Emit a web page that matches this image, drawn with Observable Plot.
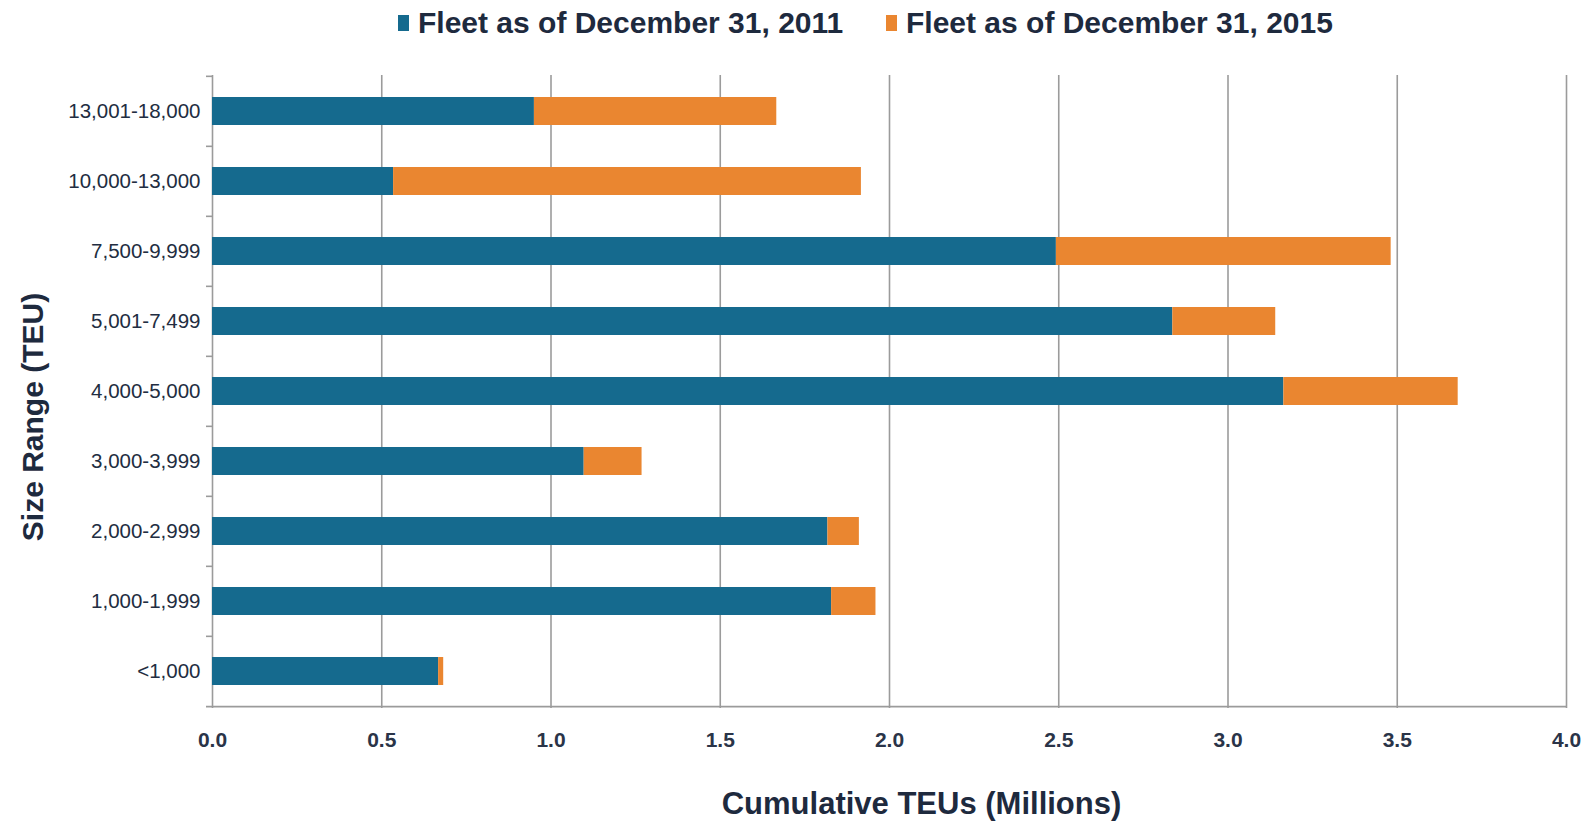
<!DOCTYPE html>
<html>
<head>
<meta charset="utf-8">
<script src="https://cdn.jsdelivr.net/npm/d3@7"></script>
<script src="https://cdn.jsdelivr.net/npm/@observablehq/plot@0.6"></script>
<style>
  html, body { margin: 0; padding: 0; background: #ffffff; }
  body { width: 1587px; height: 821px; overflow: hidden; font-family: "Liberation Sans", Arial, sans-serif; }
  #legend { position: relative; height: 50px; }
  .item { position: absolute; top: 1px; height: 44px; display: flex; align-items: center; }
  .sw { width: 11px; height: 16px; margin-right: 9px; }
  .lt { font-size: 30px; font-weight: bold; color: #1e2a3e; white-space: nowrap; }
</style>
</head>
<body>
<div id="legend"></div>
<div id="chart"></div>
<script>
// ---- data ----
const categories = ["13,001-18,000", "10,000-13,000", "7,500-9,999", "5,001-7,499", "4,000-5,000", "3,000-3,999", "2,000-2,999", "1,000-1,999", "<1,000"];
const fleet2011 = [0.951, 0.535, 2.493, 2.837, 3.165, 1.098, 1.818, 1.829, 0.668];
const fleet2015 = [1.667, 1.917, 3.482, 3.141, 3.680, 1.269, 1.911, 1.960, 0.683];
const seriesNames = ["Fleet as of December 31, 2011", "Fleet as of December 31, 2015"];
const seriesColors = ["#156a8e", "#ea8630"];
const xTicks = [0, 0.5, 1.0, 1.5, 2.0, 2.5, 3.0, 3.5, 4.0];
const xTitle = "Cumulative TEUs (Millions)";
const yTitle = "Size Range (TEU)";

// ---- legend ----
const legend = document.getElementById("legend");
const legendX = [398, 886];
seriesNames.forEach((name, i) => {
  const it = document.createElement("div");
  it.className = "item";
  it.style.left = legendX[i] + "px";
  it.innerHTML = `<span class="sw" style="background:${seriesColors[i]}"></span><span class="lt">${name}</span>`;
  legend.appendChild(it);
});

// ---- chart ----
const rows = categories.map((c, i) => ({cat: c, v11: fleet2011[i], v15: fleet2015[i]}));
const W = 1587, H = 771, mL = 212, mR = 21, mT = 25, mB = 113;
const frameW = W - mL - mR;
const step = (H - mT - mB) / categories.length;
const grid = "#9b9b9b";
const textColor = "#1e2a3e";

const chart = Plot.plot({
  width: W,
  height: H,
  marginLeft: mL,
  marginRight: mR,
  marginTop: mT,
  marginBottom: mB,
  style: {fontFamily: "'Liberation Sans', Arial, sans-serif", background: "#ffffff", color: textColor},
  x: {domain: [0, 4], axis: null},
  y: {domain: categories, axis: null, paddingInner: 0.595, paddingOuter: 0.2975},
  marks: [
    Plot.ruleX(xTicks, {stroke: grid, strokeWidth: 1.6}),
    Plot.tickY(categories, {y: d => d, dy: -step / 2, stroke: grid, strokeWidth: 1.6, insetLeft: -6, insetRight: frameW}),
    Plot.tickY([categories[categories.length - 1]], {y: d => d, dy: step / 2, stroke: grid, strokeWidth: 1.8, insetLeft: -6}),
    Plot.barX(rows, {y: "cat", x1: 0, x2: "v11", fill: seriesColors[0]}),
    Plot.barX(rows, {y: "cat", x1: "v11", x2: "v15", fill: seriesColors[1]}),
    Plot.axisX({ticks: xTicks, tickSize: 0, tickPadding: 24, tickFormat: d3.format(".1f"), label: null,
      fontSize: 21, fontWeight: "bold", fill: "#2a3448"}),
    Plot.axisY({tickSize: 0, tickPadding: 12, label: null, fontSize: 20.5, fill: "#222d41"}),
    Plot.text([xTitle], {frameAnchor: "bottom", dx: 32, dy: 96, text: d => d, fontSize: 31, fontWeight: "bold", fill: textColor, textAnchor: "middle", lineAnchor: "middle"}),
    Plot.text([yTitle], {frameAnchor: "left", dx: -179, dy: 25, rotate: -90, text: d => d, fontSize: 30, fontWeight: "bold", fill: textColor, textAnchor: "middle", lineAnchor: "middle"})
  ]
});
document.getElementById("chart").appendChild(chart);
</script>
</body>
</html>
